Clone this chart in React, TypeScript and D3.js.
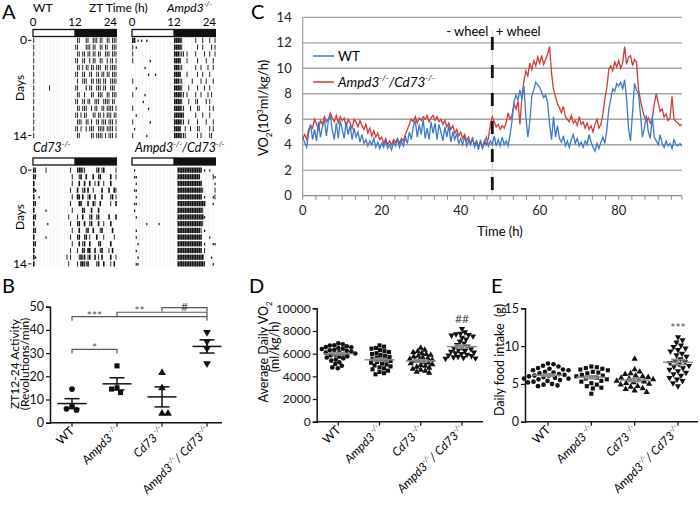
import React, { useEffect, useRef } from 'react';
import * as d3 from 'd3';

const FONT = 'Lato, "Liberation Sans", sans-serif';

// ---------------- A: actograms ----------------
// one string per day, 48 half-hour bins written as "light(0-12h)|dark(12-24h)"
// '#' solid bout, ':' thin bout, ',' short mark, '.' nothing
const wtDays = [
  ':..... ...... ...... ......|.::... ::..:: :.::.. ::.:::',
  ':..... ...... ...... ......|::.... :::.:: ..::.: :..:::',
  ':..... ...... ...... ......|.::.:: .::.:: .::..: ::.:::',
  ':..... ...... ...... ......|::..:: ..:.:: ..::.. :.::.:',
  ':..... ...... ...... ......|.::.:. ::.::. :::..: :.::::',
  ':..... ...... ...... ......|::..:: ..::.. ::.::. ::.:::',
  ':..... ...... ...... ......|.:..:: :..::. :::.:: ..::::',
  ':..... ...:.. ...... ......|::.... :.::.. :::.:: ..:::.',
  ':..... ...... ...... ......|.::..: ...::. .:::.. ::.:::',
  ':..... ...... ...... ......|::..:: .::..: ::..:: ::.::.',
  ':..... ...... ...... ......|.::.:: :..:.: :..::. ::::.:',
  ':..... ...... ...... ......|::.:.: :...:: .::.:. :::.::',
  ':..... ...... ...... ......|.:::.. ::.:.. ::.::: .:::.:',
  ':..... ...... ...... ......|::.:.. :.:::. .::::. ::::.:',
  ':..... ...... ...... ......|.::... ...::. ::::.: .:::.:',
];
const ampd3Days = [
  '##.,., ..,... ...... ......|####:. ...... :...:. ..:..:',
  ':.,... ...... ...... ......|####:. ...... .:..:. ...:.:',
  ':..... ...... ...... ......|###::: .:.... :....: ..:..:',
  ':..... ....,. ...... ......|####.. .:.... .:.... :...:.',
  '...... .,.... ...... ......|###::. ...... :..:.. .:..:.',
  '...... ...,.. .,.... ......|####.. .:.... .:..:. ..:...',
  ':..... ...... ...... ......|###::. ....:. ...:.. :...:.',
  '..,... ...... ...... ......|####:. ..:... .:...: ..:...',
  ':..... .,.... ...... ......|####:: .:.... :..:.. .:.:..',
  '...... ,..... ...... ......|####:. ..:... ::.... :.:...',
  ':..... ...,.. ...... ......|####:: ...:.. .::... ..:.:.',
  '..,... ...... ...... ......|#####: ...... :...:. ..:...',
  ':..... ....,. ...... ......|####:: ..:... .:.... :...:.',
  '.,.... ...... ...... ......|####.. :..:.. .::... ..:.:.',
  ':..... ..,... ...... ......|####:: :..... .:.:.. ..::..',
];
const cd73Days = [
  '#:.... .:.... ...... ...:..|.:##:: ...... :#.:#. .....:',
  '#:.... ...... ...... ....:.|..:#.. #...#. .:#... ..#..:',
  '#..... ...... ...... ....:.|..#..# ..#..: .#..:. ..#...',
  '#,.... ...... ...... ...:..|.#..:# .#..:. ...#.. .#..#:',
  '#..,.. ...... ...... ....:.|.##.#. .:#..# ...#.. ..:#.:',
  '#:.... ...... ...... ...:..|..##.. .#..#: ..#... ..:..#',
  '#..... .,.... ...... ....:.|....#: ...#.. .#.... ......',
  '#:.... ...... ...... ..:...|.:..#. ..:#.. :#.... .#...#',
  '#..... ..,... ...... ...:..|.:#..# ..:#.. .#..:. ..#...',
  '#:.... ...... ...... ....:.|..#... :#..#. ..:#.. ...#..',
  '#..... .,.... ...... ...:..|.:#..: #.:... #...:. ....:.',
  '#:.... ...... ...... ....:.|..#.:# ..#... .:#... ..#...',
  '#..... ...... ...... ...:..|.:..#: .##..# ..:#.. .:.#..',
  '#,.... ...... ...... .:.:..|..:#:# .:#..# .:.#.. ..#..:',
  '#..... ...... ...... ..:...|.:.##: :#.... :#..#. ..:.#.',
];
const dkoDays = [
  '.,.... ...... ...... ......|..#### ###### ####., ..,...',
  '.,,... ...... ...... ......|..#### ###### ###... ....:,',
  '..,... ...... ...... ......|..#### ###### ####.. .....,',
  '.,,... ...... ...... ......|..#### ###### ####:. .....:',
  '..,... ...... ...... ......|..#### ###### ####., ....,:',
  '.,,... ...... ...... ......|..#### ###### ###### ....,.',
  '.,.... ...... ...... ......|..#### ###### ####:. ......',
  '..,... ...... ...... ......|..#### ###### #####, ......',
  '...... ..,... ...,.. ......|..#### ###### ####:. ......',
  '..,... ...... ...... ......|..#### ###### ###:., ......',
  '..,... ...... ...... ......|..#### ###### ####.. ..,...',
  '...,.. ...... ...... ......|..#### ###### ####., ....,,',
  '..,... ...... ...... ......|..#### ###### ####.: ......',
  '...,.. ...... ...... ......|..#### ###### #####. ...,..',
  '..,,.. ...... ...... ......|..#### ###### #####: ....,.',
];
const ztTicks = [0, 12, 24];

// ---------------- B: wheel activity ----------------
const groups = ['WT', 'Ampd3', 'Cd73', 'DKO'];
const bWT = [14.5, 7.0, 5.5, 6.0];
const bAmpd3 = [24.5, 15.0, 13.0, 14.5];
const bCd73 = [21.5, 15.0, 4.0, 4.0];
const bDKO = [39.0, 35.0, 32.0, 25.5];
const bTicks = [0, 10, 20, 30, 40, 50];
const bSig = [
  { from: 'WT', to: 'Ampd3', level: 31.6, label: '*' },
  { from: 'WT', to: 'DKO', level: 45.7, label: '***' },
  { from: 'Ampd3', to: 'DKO', level: 47.6, label: '**' },
  { from: 'Cd73', to: 'DKO', level: 49.6, label: '#' },
];

// ---------------- C: VO2 time course, one value every 0.5 h ----------------
const STEP_H = 0.5;
const vo2WT = [
  4.6, 4.2, 3.8, 4.9, 5.6, 4.4, 5.2, 4.3, 5.8, 4.6,
  5.4, 6.0, 4.7, 5.9, 6.3, 5.1, 4.4, 5.7, 4.5, 5.9,
  5.2, 4.5, 5.8, 4.8, 5.5, 4.4, 5.3, 4.6, 5.0, 4.2,
  4.8, 4.1, 4.4, 3.9, 4.3, 4.0, 4.5, 3.8, 4.2, 3.7,
  4.1, 3.8, 4.3, 3.7, 4.0, 3.6, 4.2, 3.9, 4.4, 3.8,
  4.3, 3.9, 4.6, 4.1, 5.0, 4.4, 5.4, 5.9, 4.6, 5.6,
  4.8, 6.0, 4.5, 5.3, 4.4, 5.8, 4.9, 5.7, 4.4, 5.6,
  5.0, 4.3, 5.4, 4.6, 5.5, 4.2, 5.0, 4.4, 4.9, 4.1,
  4.5, 4.0, 4.7, 3.9, 4.3, 4.0, 4.6, 3.8, 4.2, 3.6,
  4.4, 3.7, 4.1, 4.6, 3.9, 4.3, 4.0, 4.7, 3.9, 4.4,
  3.9, 4.6, 4.0, 4.3, 3.9, 4.8, 5.9, 7.4, 7.9, 7.5,
  8.3, 7.6, 8.6, 6.2, 4.6, 5.8, 7.8, 8.3, 8.9, 8.7,
  8.5, 8.1, 7.7, 7.9, 7.3, 5.6, 4.4, 6.2, 4.6, 5.5,
  4.5, 4.2, 4.7, 3.9, 4.3, 3.8, 4.4, 4.8, 4.1, 4.5,
  3.9, 4.2, 3.8, 4.3, 4.0, 4.8, 4.2, 3.8, 3.5, 4.1,
  3.7, 4.2, 4.6, 4.1, 5.2, 6.8, 7.6, 8.4, 8.2, 8.8,
  8.6, 8.9, 8.4, 9.1, 7.6, 5.2, 4.3, 6.5, 8.8, 8.3,
  8.0, 6.4, 4.6, 5.3, 6.3, 5.0, 4.5, 6.2, 4.6, 4.3,
  4.0, 4.8, 4.1, 3.8, 4.3, 3.9, 4.1, 3.7, 4.4, 4.0,
  3.9, 4.1, 3.9,
];
const vo2DKO = [
  4.5, 4.8, 4.4, 5.2, 5.5, 5.3, 6.0, 5.6, 5.2, 5.9,
  5.6, 6.2, 5.8, 6.0, 6.5, 6.1, 5.8, 6.3, 5.7, 6.2,
  5.9, 6.1, 5.4, 6.0, 5.7, 5.3, 6.0, 5.8, 5.4, 5.9,
  5.5, 5.2, 5.6, 4.9, 5.3, 4.7, 5.1, 4.6, 4.9, 4.4,
  4.6, 4.1, 4.5, 4.0, 4.3, 4.0, 4.4, 4.2, 4.5, 4.1,
  4.5, 4.3, 4.8, 5.2, 5.6, 6.0, 5.8, 6.2, 5.7, 6.1,
  5.9, 6.2, 6.0, 6.3, 5.8, 6.1, 6.3, 5.9, 6.2, 5.8,
  6.0, 5.6, 5.9, 5.4, 5.7, 5.2, 5.5, 4.9, 5.2, 4.7,
  5.0, 4.5, 4.8, 4.3, 4.6, 4.1, 4.4, 4.0, 4.3, 3.9,
  4.2, 3.8, 4.3, 4.0, 4.5, 5.6, 6.2, 5.8, 5.4, 5.6,
  5.2, 5.5, 5.3, 5.7, 6.5, 6.0, 6.3, 7.2, 6.8, 7.4,
  5.6, 7.8, 9.0, 9.8, 9.4, 10.4, 9.9, 10.6, 10.2, 10.9,
  10.4, 11.0, 10.3, 10.7, 11.1, 11.7, 9.6, 8.3, 7.8, 7.2,
  6.9, 6.5, 7.0, 6.2, 6.0, 5.8, 6.3, 5.7, 5.9, 5.5,
  6.2, 5.6, 5.8, 5.3, 5.7, 5.2, 5.5, 5.0, 5.6, 6.0,
  5.3, 5.6, 6.4, 7.6, 8.5, 9.9, 10.2, 9.8, 10.5, 10.1,
  10.6, 10.0, 10.4, 11.7, 10.3, 10.9, 11.0, 10.2, 10.7, 10.5,
  8.4, 7.5, 6.8, 6.2, 5.8, 6.1, 5.7, 6.0, 7.2, 8.0,
  7.3, 6.6, 6.8, 6.2, 6.4, 5.9, 6.1, 7.8, 6.0, 5.8,
  5.7, 5.5, 5.6,
];
const cYTicks = [0, 2, 4, 6, 8, 10, 12, 14];
const cXTicks = [0, 20, 40, 60, 80];
const WHEEL_ON_H = 48;

// ---------------- D: average daily VO2 (ml/kg/h) ----------------
const dWT = [6910, 6830, 6740, 6720, 6650, 6580, 6560, 6490, 6440, 6410, 6330, 6290, 6260, 6180, 6120, 6090,
  6010, 5970, 5920, 5850, 5780, 5740, 5660, 5590, 5480, 5380, 5240, 5090, 4930, 4790, 4710];
const dAmpd3 = [6730, 6620, 6500, 6440, 6310, 6220, 6150, 6040, 5970, 5880, 5800, 5720, 5650, 5560, 5490,
  5420, 5350, 5270, 5200, 5120, 5040, 4960, 4880, 4790, 4700, 4620, 4500, 4390, 4280, 4180];
const dCd73 = [6500, 6330, 6210, 6120, 6030, 5950, 5880, 5800, 5730, 5660, 5590, 5520, 5460, 5400, 5340,
  5270, 5210, 5140, 5060, 4990, 4910, 4830, 4740, 4660, 4570, 4480, 4390, 4300];
const dDKO = [8200, 7900, 7780, 7720, 7660, 7610, 7540, 7420, 7260, 7080, 6920, 6780, 6650, 6560, 6480,
  6400, 6330, 6260, 6190, 6120, 6050, 5990, 5920, 5860, 5800, 5740, 5690, 5640, 5600, 5560];
const dTicks = [0, 2000, 4000, 6000, 8000, 10000];

// ---------------- E: daily food intake (g) ----------------
const eWT = [7.7, 7.6, 7.4, 7.3, 7.1, 7.0, 6.9, 6.8, 6.8, 6.6, 6.5, 6.4, 6.3, 6.2, 6.1, 6.1, 6.0, 5.9, 5.8,
  5.7, 5.7, 5.6, 5.5, 5.4, 5.3, 5.2, 5.0, 4.9, 4.8, 4.7];
const eAmpd3 = [7.3, 7.2, 7.1, 7.0, 6.9, 6.8, 6.6, 6.5, 6.4, 6.2, 6.1, 6.0, 5.9, 5.8, 5.7, 5.6, 5.4, 5.3,
  5.1, 4.9, 4.7, 4.5, 4.4, 3.7];
const eCd73 = [8.3, 6.9, 6.6, 6.4, 6.3, 6.1, 6.0, 5.9, 5.8, 5.7, 5.6, 5.5, 5.4, 5.3, 5.2, 5.1, 5.0, 4.9,
  4.7, 4.6, 4.4, 4.3, 4.1, 3.9];
const eDKO = [11.2, 10.8, 10.5, 10.1, 9.9, 9.7, 9.5, 9.3, 9.0, 8.8, 8.6, 8.3, 8.1, 7.9, 7.8, 7.6, 7.4, 7.3,
  7.1, 6.9, 6.7, 6.5, 6.3, 6.1, 5.8, 5.6, 5.4, 5.1, 4.7];
const eTicks = [0, 5, 10, 15];

type Seg = { t: string; it?: boolean; sup?: boolean; sub?: boolean };
const LAB: Record<string, Seg[]> = {
  WT: [{ t: 'WT' }],
  Ampd3: [{ t: 'Ampd3', it: true }, { t: ' -/-', sup: true, it: true }],
  Cd73: [{ t: 'Cd73', it: true }, { t: ' -/-', sup: true, it: true }],
  DKO: [{ t: 'Ampd3', it: true }, { t: '-/-', sup: true, it: true }, { t: '/ Cd73', it: true }, { t: '-/-', sup: true, it: true }],
};
const DKO_TITLE: Seg[] = [{ t: 'Ampd3', it: true }, { t: '-/-', sup: true, it: true }, { t: '/Cd73', it: true }, { t: '-/-', sup: true, it: true }];

function rich(text: any, segs: Seg[], fs: number) {
  let shift = 0;
  segs.forEach((s) => {
    const target = s.sup ? -0.42 * fs : s.sub ? 0.28 * fs : 0;
    const ts = text.append('tspan').text(s.t);
    if (target - shift !== 0) ts.attr('dy', target - shift);
    shift = target;
    if (s.sup || s.sub) ts.attr('font-size', fs * 0.62);
    if (s.it) ts.attr('font-style', 'italic');
  });
  return text;
}

function label(svg: any, x: number, y: number, str: string, fs: number, anchor = 'start') {
  return svg.append('text').attr('x', x).attr('y', y).attr('font-size', fs).attr('text-anchor', anchor).text(str);
}

function drawActogram(svg: any, days: string[], x0: number, barY: number, rowY: number, pitch: number, leftAxis: boolean) {
  const g = svg.append('g');
  const x = d3.scaleLinear().domain([0, 48]).range([x0, x0 + 84]);
  const y = d3.scaleBand<number>().domain(d3.range(days.length)).range([rowY, rowY + days.length * pitch]).paddingInner(0.22);
  const bw = x(1) - x(0);
  g.append('g').selectAll('line').data(d3.range(1, 24)).join('line')
    .attr('x1', (h: number) => x(h * 2)).attr('x2', (h: number) => x(h * 2))
    .attr('y1', rowY).attr('y2', rowY + days.length * pitch)
    .attr('stroke', '#ededed').attr('stroke-width', 0.6);
  days.forEach((s, i) => {
    const bins = s.replace(/[ |]/g, '').split('');
    const top = y(i) as number;
    const h = y.bandwidth();
    bins.forEach((c, j) => {
      if (c === '.') return;
      const r = g.append('rect').attr('fill', '#111');
      if (c === '#') r.attr('x', x(j)).attr('width', bw * 0.9).attr('y', top).attr('height', h);
      else if (c === ':') r.attr('x', x(j) + 0.3).attr('width', 0.9).attr('y', top).attr('height', h);
      else r.attr('x', x(j) + 0.2).attr('width', 1.2).attr('y', top + h * 0.35).attr('height', h * 0.45);
    });
  });
  // light/dark bar
  g.append('rect').attr('x', x(0)).attr('y', barY).attr('width', x(24) - x(0)).attr('height', 7)
    .attr('fill', '#fff').attr('stroke', '#111').attr('stroke-width', 1.3);
  g.append('rect').attr('x', x(24)).attr('y', barY - 0.65).attr('width', x(48) - x(24)).attr('height', 8.3).attr('fill', '#111');
  if (leftAxis) {
    const y0 = (y(0) as number) + y.bandwidth() / 2;
    const y14 = (y(days.length - 1) as number) + y.bandwidth() / 2;
    [[y0, '0'], [y14, '14']].forEach(([yy, t]) => {
      g.append('line').attr('x1', x0 - 5).attr('x2', x0 - 1.5).attr('y1', yy).attr('y2', yy).attr('stroke', '#111').attr('stroke-width', 1);
      label(g, x0 - 6, (yy as number) + 4, t as string, 12, 'end');
    });
    g.append('text').attr('transform', `translate(24,${(y0 + y14) / 2}) rotate(-90)`).attr('text-anchor', 'middle')
      .attr('font-size', 12).text('Days');
  }
  return x;
}

function yAxis(svg: any, scale: any, x: number, ticks: number[], fs = 12) {
  const ax = svg.append('g').attr('transform', `translate(${x},0)`)
    .call(d3.axisLeft(scale).tickValues(ticks).tickSize(4).tickPadding(2).tickFormat(d3.format('d') as any));
  ax.select('.domain').attr('stroke', '#111').attr('stroke-width', 1.5);
  ax.selectAll('.tick line').attr('stroke', '#111').attr('stroke-width', 1.2);
  ax.selectAll('.tick text').attr('font-size', fs).attr('font-family', FONT).attr('fill', '#111');
  return ax;
}

function catAxis(svg: any, xs: any, x0: number, x1: number, y: number, fs = 12) {
  svg.append('line').attr('x1', x0).attr('x2', x1).attr('y1', y).attr('y2', y).attr('stroke', '#111').attr('stroke-width', 1.5);
  groups.forEach((gname) => {
    const cx = xs(gname);
    svg.append('line').attr('x1', cx).attr('x2', cx).attr('y1', y).attr('y2', y + 4).attr('stroke', '#111').attr('stroke-width', 1.2);
    const t = svg.append('text').attr('transform', `translate(${cx + 3},${y + 9}) rotate(-45)`)
      .attr('text-anchor', 'end').attr('font-size', fs);
    rich(t, LAB[gname], fs);
  });
}

function swarm(values: number[], ys: any, cx: number, d: number) {
  const pts: { x: number; y: number }[] = [];
  values.forEach((v) => {
    const py = ys(v);
    for (let k = 0; k < 400; k++) {
      const off = k === 0 ? 0 : (k % 2 ? 1 : -1) * Math.ceil(k / 2) * 0.5;
      const px = cx + off;
      if (pts.every((p) => (p.x - px) ** 2 + (p.y - py) ** 2 >= d * d)) {
        pts.push({ x: px, y: py });
        break;
      }
    }
  });
  return pts;
}

const SYMBOLS: Record<string, { type: any; rot: number }> = {
  WT: { type: d3.symbolCircle, rot: 0 },
  Ampd3: { type: d3.symbolSquare, rot: 0 },
  Cd73: { type: d3.symbolTriangle, rot: 0 },
  DKO: { type: d3.symbolTriangle, rot: 180 },
};

function scatterGroup(svg: any, gname: string, values: number[], xs: any, ys: any, opt: { size: number; d: number; mean: number; sem: number; color: string; width: number }) {
  const cx = xs(gname);
  const pts = swarm(values, ys, cx, opt.d);
  const sym = SYMBOLS[gname];
  svg.append('g').selectAll('path').data(pts).join('path')
    .attr('d', d3.symbol().type(sym.type).size(opt.size)())
    .attr('transform', (p: any) => `translate(${p.x},${p.y}) rotate(${sym.rot})`)
    .attr('fill', '#111');
  const m = d3.mean(values) as number;
  const se = (d3.deviation(values) as number) / Math.sqrt(values.length);
  const g = svg.append('g').attr('stroke', opt.color).attr('stroke-width', opt.width);
  g.append('line').attr('x1', cx - opt.mean).attr('x2', cx + opt.mean).attr('y1', ys(m)).attr('y2', ys(m));
  g.append('line').attr('x1', cx).attr('x2', cx).attr('y1', ys(m - se)).attr('y2', ys(m + se));
  [m - se, m + se].forEach((v) => {
    g.append('line').attr('x1', cx - opt.sem).attr('x2', cx + opt.sem).attr('y1', ys(v)).attr('y2', ys(v));
  });
}

function drawA(svg: any) {
  label(svg, 2, 19, 'A', 20);
  const xWT = drawActogram(svg, wtDays, 33, 29.5, 37.7, 6.7, true);
  const xAm = drawActogram(svg, ampd3Days, 132, 29.5, 37.7, 6.7, false);
  drawActogram(svg, cd73Days, 33, 158, 167.5, 6.6, true);
  drawActogram(svg, dkoDays, 132, 158, 167.5, 6.6, false);
  [xWT, xAm].forEach((x) => {
    ztTicks.forEach((h) => label(svg, x(h * 2), 26.3, String(h), 11.5, h === 24 ? 'end' : 'middle'));
  });
  label(svg, 33, 12, 'WT', 12);
  label(svg, 89, 12, 'ZT Time (h)', 12);
  rich(svg.append('text').attr('x', 167).attr('y', 12).attr('font-size', 12), LAB.Ampd3.map((s) => ({ ...s, t: s.t.trim() })), 12);
  rich(svg.append('text').attr('x', 33).attr('y', 152).attr('font-size', 12.5), LAB.Cd73.map((s) => ({ ...s, t: s.t.trim() })), 12.5);
  rich(svg.append('text').attr('x', 135).attr('y', 152).attr('font-size', 12.5), DKO_TITLE, 12.5);
}

function drawB(svg: any) {
  label(svg, 2, 293, 'B', 20);
  const xs = d3.scalePoint<string>().domain(groups).range([72, 207]);
  const ys = d3.scaleLinear().domain([0, 50]).range([422.7, 306.7]);
  yAxis(svg, ys, 50, bTicks, 12.5);
  catAxis(svg, xs, 50, 222, 422.7, 12);
  const data: Record<string, number[]> = { WT: bWT, Ampd3: bAmpd3, Cd73: bCd73, DKO: bDKO };
  groups.forEach((gname) => scatterGroup(svg, gname, data[gname], xs, ys, { size: 26, d: 5.6, mean: 14.5, sem: 7.5, color: '#111', width: 1.5 }));
  const sg = svg.append('g');
  bSig.forEach((s) => {
    const x1 = xs(s.from) as number;
    const x2 = xs(s.to) as number;
    const yy = ys(s.level);
    sg.append('path').attr('d', `M${x1},${yy + 4}V${yy}H${x2}V${yy + 4}`).attr('fill', 'none').attr('stroke', '#555').attr('stroke-width', 1.2);
    const next = groups[groups.indexOf(s.from) + 1];
    const lx = ((xs(s.from) as number) + (xs(next) as number)) / 2;
    sg.append('text').attr('x', lx).attr('y', yy + 3).attr('text-anchor', 'middle').attr('font-size', 12).attr('fill', '#555').text(s.label);
  });
  svg.append('text').attr('transform', 'translate(18.5,364) rotate(-90)').attr('text-anchor', 'middle').attr('font-size', 12).text('ZT12-24 Activity');
  svg.append('text').attr('transform', 'translate(28.5,364) rotate(-90)').attr('text-anchor', 'middle').attr('font-size', 12).text('(Revolutions/min)');
}

function drawC(svg: any) {
  label(svg, 251, 19, 'C', 20);
  const xs = d3.scaleLinear().domain([0, 96]).range([302.7, 681.9]);
  const ys = d3.scaleLinear().domain([0, 14]).range([195.7, 17.3]);
  const g = svg.append('g');
  g.selectAll('line.grid').data(cYTicks.filter((v) => v > 0)).join('line').attr('class', 'grid')
    .attr('x1', xs(0)).attr('x2', xs(96)).attr('y1', (v: number) => ys(v)).attr('y2', (v: number) => ys(v))
    .attr('stroke', '#a3a3a3').attr('stroke-width', 1.3);
  g.append('line').attr('x1', xs(0)).attr('x2', xs(0)).attr('y1', ys(14)).attr('y2', ys(0)).attr('stroke', '#a3a3a3').attr('stroke-width', 1.3);
  g.append('line').attr('x1', xs(0)).attr('x2', xs(96)).attr('y1', ys(0)).attr('y2', ys(0)).attr('stroke', '#8a8a8a').attr('stroke-width', 1.3);
  g.selectAll('line.tk').data(d3.range(0, 29).map((k) => (k * 10) / 3).concat([96])).join('line').attr('class', 'tk')
    .attr('x1', (t: number) => xs(t)).attr('x2', (t: number) => xs(t)).attr('y1', ys(0)).attr('y2', ys(0) + 4)
    .attr('stroke', '#8a8a8a').attr('stroke-width', 1);
  cYTicks.forEach((v) => label(g, xs(0) - 11, ys(v) + 4.5, String(v), 13, 'end').attr('fill', '#222'));
  cXTicks.forEach((v) => label(g, xs(v), 215, String(v), 13, 'middle').attr('fill', '#222'));
  label(g, 500, 236, 'Time (h)', 13, 'middle');
  const yl = svg.append('text').attr('transform', 'translate(268,108) rotate(-90)').attr('text-anchor', 'middle').attr('font-size', 13);
  rich(yl, [{ t: 'VO' }, { t: '2', sub: true }, { t: '(10' }, { t: '3', sup: true }, { t: 'ml/kg/h)' }], 13);

  const wx = xs(WHEEL_ON_H);
  g.append('line').attr('x1', wx).attr('x2', wx).attr('y1', 30).attr('y2', ys(0)).attr('stroke', '#d4d4d4').attr('stroke-width', 1);
  const line = d3.line<number>().x((_, i) => xs(i * STEP_H)).y((v) => ys(v));
  g.append('path').datum(vo2DKO).attr('d', line).attr('fill', 'none').attr('stroke', '#cf3a3a').attr('stroke-width', 1.3);
  g.append('path').datum(vo2WT).attr('d', line).attr('fill', 'none').attr('stroke', '#3d78c9').attr('stroke-width', 1.3);
  g.append('line').attr('x1', wx).attr('x2', wx).attr('y1', 37).attr('y2', ys(0)).attr('stroke', '#111')
    .attr('stroke-width', 2.8).attr('stroke-dasharray', '13,15');
  label(g, wx - 4, 36, '- wheel', 13, 'end');
  label(g, wx + 3.5, 36, '+ wheel', 13, 'start');
  g.append('line').attr('x1', 313).attr('x2', 334).attr('y1', 56).attr('y2', 56).attr('stroke', '#3d78c9').attr('stroke-width', 1.5);
  label(g, 338, 61, 'WT', 13.5);
  g.append('line').attr('x1', 313).attr('x2', 334).attr('y1', 82).attr('y2', 82).attr('stroke', '#cf3a3a').attr('stroke-width', 1.5);
  rich(g.append('text').attr('x', 338).attr('y', 87).attr('font-size', 13.5), DKO_TITLE, 13.5);
}

function drawD(svg: any) {
  label(svg, 249, 293, 'D', 20);
  const xs = d3.scalePoint<string>().domain(groups).range([338.3, 462]);
  const ys = d3.scaleLinear().domain([0, 10000]).range([421.7, 308.3]);
  yAxis(svg, ys, 316.7, dTicks, 12);
  catAxis(svg, xs, 316.7, 483, 421.7, 12);
  const data: Record<string, number[]> = { WT: dWT, Ampd3: dAmpd3, Cd73: dCd73, DKO: dDKO };
  groups.forEach((gname) => scatterGroup(svg, gname, data[gname], xs, ys, { size: 17, d: 4.3, mean: 15, sem: 7, color: '#8c8c8c', width: 1.5 }));
  label(svg, xs('DKO') as number, 323, '##', 12, 'middle').attr('fill', '#555');
  const t = svg.append('text').attr('transform', 'translate(268,352) rotate(-90)').attr('text-anchor', 'middle').attr('font-size', 12.5);
  rich(t, [{ t: 'Average Daily VO' }, { t: '2', sub: true }], 12.5);
  svg.append('text').attr('transform', 'translate(279,347) rotate(-90)').attr('text-anchor', 'middle').attr('font-size', 12.5).text('(ml/kg/h)');
}

function drawE(svg: any) {
  label(svg, 491, 293, 'E', 20);
  const xs = d3.scalePoint<string>().domain(groups).range([548, 678]);
  const ys = d3.scaleLinear().domain([0, 15]).range([421.7, 308.3]);
  yAxis(svg, ys, 525, eTicks, 12.5);
  catAxis(svg, xs, 525, 698, 421.7, 12);
  const data: Record<string, number[]> = { WT: eWT, Ampd3: eAmpd3, Cd73: eCd73, DKO: eDKO };
  groups.forEach((gname) => scatterGroup(svg, gname, data[gname], xs, ys, { size: 17, d: 5.4, mean: 15, sem: 7, color: '#8c8c8c', width: 1.5 }));
  label(svg, xs('DKO') as number, 332, '***', 12, 'middle').attr('fill', '#555');
  svg.append('text').attr('transform', 'translate(504,360) rotate(-90)').attr('text-anchor', 'middle').attr('font-size', 12.5)
    .attr('xml:space', 'preserve').text('Daily food intake  (g)');
}

export default function App() {
  const ref = useRef<SVGSVGElement>(null);

  useEffect(() => {
    const svg = d3.select(ref.current);
    svg.selectAll('*').remove();
    drawA(svg);
    drawB(svg);
    drawC(svg);
    drawD(svg);
    drawE(svg);
  }, []);

  return (
    <div style={{ position: 'absolute', left: 0, top: 0 }}>
      <svg ref={ref} width={700} height={508} style={{ display: 'block', fontFamily: FONT, background: '#fff' }} />
    </div>
  );
}
